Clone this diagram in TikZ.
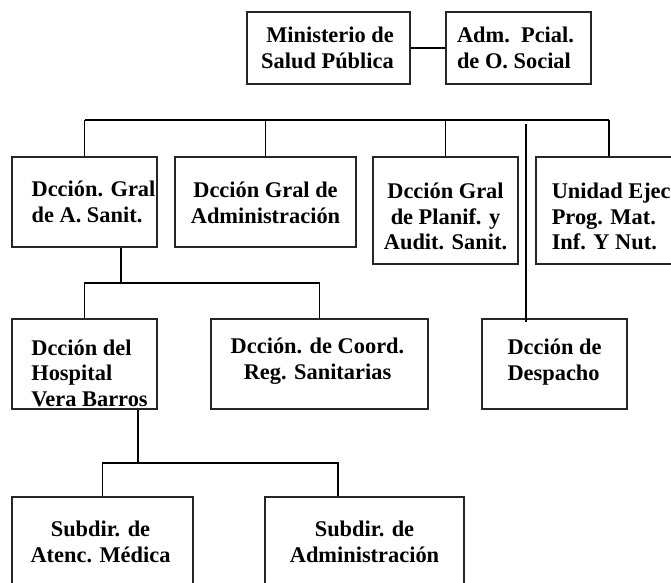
\documentclass[tikz,border=0pt]{standalone}
\usepackage{fontspec}
\setmainfont{Liberation Serif}
\usepackage{tikz}
\usetikzlibrary{positioning}

\tikzset{
  unit/.style={draw=black!85, line width=1.5pt, inner sep=0pt},
  txt/.style={inner sep=0pt, font=\bfseries\fontsize{22.4}{25.5}\selectfont},
  link/.style={black, line width=1.5pt}
}

\begin{document}
\begin{tikzpicture}[x=1pt,y=-1pt]
\useasboundingbox (0,0) rectangle (671,582);
\clip (0,0) rectangle (671,582);
\node [unit, minimum width=163pt, minimum height=72pt] (min) at (328.5,48) {};
\node [unit, minimum width=145pt, minimum height=72pt] (adm) at (518.5,48) {};
\node [unit, minimum width=145pt, minimum height=90pt] (sanit) at (84.5,202) {};
\node [unit, minimum width=181pt, minimum height=90pt] (admin) at (265.5,202) {};
\node [unit, minimum width=145pt, minimum height=107pt] (planif) at (445.5,210.5) {};
\node [unit, minimum width=146pt, minimum height=107pt] (unidad) at (609,210.5) {};
\node [unit, minimum width=145pt, minimum height=90pt] (hosp) at (84.5,364) {};
\node [unit, minimum width=217pt, minimum height=90pt] (coord) at (319.5,364) {};
\node [unit, minimum width=145pt, minimum height=90pt] (desp) at (554.5,364) {};
\node [unit, minimum width=181pt, minimum height=96pt] (atenc) at (102.5,545) {};
\node [unit, minimum width=199pt, minimum height=96pt] (subadm) at (364.5,545) {};
\node [txt, align=right] (min-t) at ([xshift=-1pt]min) {Ministerio de\\Salud Pública};
\node [txt, align=left] (adm-t) at ([xshift=-3pt]adm) {Adm.\ \ Pcial.\\de O. Social};
\node [txt, align=left] (sanit-t) at ([xshift=9pt]sanit) {Dcción. Gral\\de A. Sanit.};
\node [txt, align=center] (admin-t) at ([yshift=-1pt]admin) {Dcción Gral de\\Administración};
\node [txt, align=center] (planif-t) at ([yshift=-6pt]planif) {Dcción Gral\\de Planif. y\\Audit. Sanit.};
\node [txt, align=left] (unidad-t) at ([xshift=5pt,yshift=-6pt]unidad) {Unidad Ejec.\\Prog. Mat.\\Inf. Y Nut.};
\node [txt, align=left] (hosp-t) at ([xshift=5pt,yshift=-9pt]hosp) {Dcción del\\ Hospital\\ Vera Barros};
\node [txt, align=center] (coord-t) at ([xshift=-2pt,yshift=3pt]coord) {Dcción. de Coord.\\Reg. Sanitarias};
\node [txt, align=left] (desp-t) at ([yshift=2pt]desp) {Dcción de\\Despacho};
\node [txt, align=center] (atenc-t) at ([xshift=-2pt,yshift=3pt]atenc) {Subdir. de\\Atenc. Médica};
\node [txt, align=center] (subadm-t) at ([yshift=3pt]subadm) {Subdir. de\\Administración};
\coordinate (bus) at (84.5,120);
\coordinate (dtop) at (526,124);
\coordinate (s1) at (121,283);
\coordinate (s2) at (138,463);
\coordinate (s2r) at (338,463);
\draw [link] (min) -- (adm);
\draw [link] (sanit.north |- bus) -- (unidad.north |- bus);
\foreach \n in {sanit,admin,planif,unidad}
  \draw [link] (\n.north) -- (\n.north |- bus);
\draw [link] (dtop) -- ([yshift=-4pt]dtop |- desp.north);
\draw [link] (s1 |- sanit.south) -- (s1);
\draw [link] (hosp.north) |- (s1) -| (coord.north);
\draw [link] (s2 |- hosp.south) -- (s2);
\draw [link] (atenc.north) |- (s2r) -- (s2r |- subadm.north);
\end{tikzpicture}
\end{document}
